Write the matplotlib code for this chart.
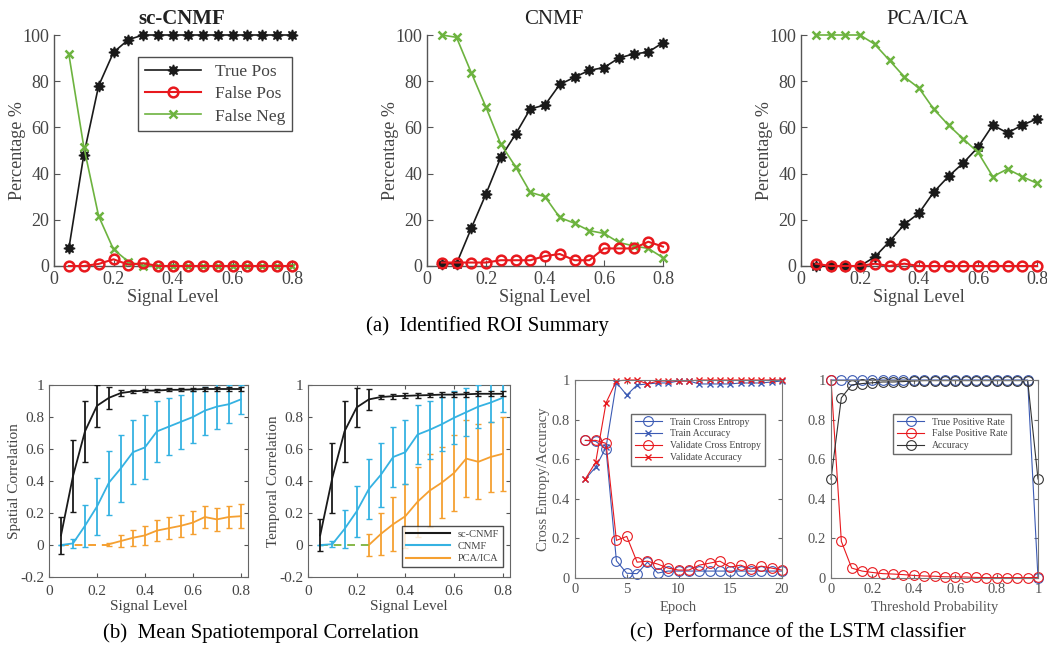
import matplotlib
matplotlib.use("Agg")
import matplotlib.pyplot as plt
import numpy as np

plt.rcParams["font.family"] = ["Liberation Serif", "DejaVu Serif"]

W, H = 1047, 649

# ---- (a) identified ROI summary ----
signal = [0.05, 0.1, 0.15, 0.2, 0.25, 0.3, 0.35, 0.4, 0.45, 0.5, 0.55, 0.6, 0.65, 0.7, 0.75, 0.8]

sc_true_pos = [7.6, 48, 78, 92.5, 98, 100, 100, 100, 100, 100, 100, 100, 100, 100, 100, 100]
sc_false_pos = [0, 0, 0.9, 2.9, 0.6, 1.2, 0, 0, 0, 0, 0, 0, 0, 0, 0, 0]
sc_false_neg = [91.6, 51.7, 21.6, 7.2, 1.9, 0, 0, 0, 0, 0, 0, 0, 0, 0, 0, 0]

cnmf_true_pos = [1, 1, 16.3, 31.2, 47, 57, 68, 69.7, 78.6, 81.7, 84.7, 85.9, 90, 91.8, 92.6, 96.7]
cnmf_false_pos = [1.5, 1.5, 1.5, 1.5, 2.5, 2.5, 2.5, 4.3, 5.2, 2.5, 2.5, 7.6, 7.6, 7.6, 10.5, 8.4]
cnmf_false_neg = [100, 99, 83.7, 68.7, 52.8, 43, 31.9, 30, 21, 18.5, 15.3, 14.1, 10.2, 8.7, 7.6, 3.6]

pca_true_pos = [0, 0, 0, 0, 3.9, 10.6, 18, 22.9, 32, 38.8, 44.6, 51.4, 61, 57.6, 61, 63.7]
pca_false_pos = [1, 0, 0, 0, 1, 0, 1, 0, 0, 0, 0, 0, 0, 0, 0, 0]
pca_false_neg = [100, 100, 100, 100, 96, 89, 81.9, 77, 67.9, 61, 55, 49.2, 38.7, 42, 38.7, 35.8]

# ---- (b) mean spatiotemporal correlation ----
nan = np.nan
sc_spatial = [0.06, 0.43, 0.71, 0.87, 0.92, 0.95, 0.96, 0.965, 0.965, 0.97, 0.97, 0.972, 0.975, 0.975, 0.975, 0.975]
sc_spatial_err = [0.115, 0.225, 0.19, 0.13, 0.07, 0.02, 0.01, 0.01, 0.01, 0.01, 0.01, 0.01, 0.01, 0.01, 0.01, 0.01]
cnmf_spatial = [0.0, 0.01, 0.12, 0.24, 0.39, 0.48, 0.58, 0.61, 0.71, 0.74, 0.77, 0.80, 0.84, 0.865, 0.88, 0.91]
cnmf_spatial_err = [0, 0.03, 0.13, 0.18, 0.2, 0.21, 0.2, 0.2, 0.19, 0.18, 0.17, 0.165, 0.15, 0.14, 0.12, 0.09]
pca_spatial = [nan, nan, nan, nan, 0.005, 0.025, 0.045, 0.06, 0.09, 0.105, 0.12, 0.14, 0.175, 0.16, 0.175, 0.18]
pca_spatial_err = [0, 0, 0, 0, 0.01, 0.035, 0.05, 0.06, 0.065, 0.07, 0.07, 0.07, 0.07, 0.07, 0.07, 0.075]

sc_temporal = [0.06, 0.42, 0.71, 0.86, 0.91, 0.925, 0.93, 0.932, 0.935, 0.937, 0.94, 0.94, 0.942, 0.945, 0.945, 0.945]
sc_temporal_err = [0.1, 0.22, 0.19, 0.12, 0.065, 0.015, 0.015, 0.015, 0.015, 0.015, 0.015, 0.015, 0.015, 0.015, 0.015, 0.015]
cnmf_temporal = [0.0, 0.005, 0.1, 0.21, 0.35, 0.44, 0.55, 0.58, 0.69, 0.72, 0.755, 0.795, 0.83, 0.865, 0.89, 0.92]
cnmf_temporal_err = [0, 0.02, 0.12, 0.16, 0.19, 0.2, 0.19, 0.2, 0.185, 0.18, 0.17, 0.165, 0.15, 0.135, 0.12, 0.09]
pca_temporal = [nan, nan, nan, nan, 0.0, 0.07, 0.13, 0.18, 0.27, 0.34, 0.39, 0.45, 0.54, 0.52, 0.55, 0.57]
pca_temporal_err = [0, 0, 0, 0, 0.07, 0.13, 0.17, 0.2, 0.22, 0.23, 0.22, 0.24, 0.24, 0.235, 0.22, 0.23]

# ---- (c) LSTM classifier ----
epochs = list(range(1, 21))
train_ce = [0.695, 0.69, 0.65, 0.087, 0.024, 0.022, 0.08, 0.025, 0.035, 0.035, 0.035, 0.035, 0.035, 0.035, 0.035, 0.035, 0.035, 0.035, 0.035, 0.035]
train_acc = [0.5, 0.56, 0.66, 0.987, 0.924, 0.975, 0.98, 0.985, 0.985, 0.995, 0.995, 0.98, 0.98, 0.98, 0.98, 0.985, 0.985, 0.985, 0.99, 0.995]
val_ce = [0.695, 0.695, 0.68, 0.19, 0.21, 0.08, 0.085, 0.07, 0.05, 0.04, 0.04, 0.065, 0.075, 0.085, 0.055, 0.065, 0.045, 0.06, 0.05, 0.04]
val_acc = [0.5, 0.585, 0.885, 0.995, 1.0, 1.0, 0.98, 0.995, 0.995, 0.995, 0.995, 1.0, 1.0, 1.0, 1.0, 1.0, 1.0, 1.0, 1.0, 1.0]

threshold = [0, 0.05, 0.1, 0.15, 0.2, 0.25, 0.3, 0.35, 0.4, 0.45, 0.5, 0.55, 0.6, 0.65, 0.7, 0.75, 0.8, 0.85, 0.9, 0.95, 1.0]
tpr = [1] * 20 + [0]
fpr = [1.0, 0.185, 0.05, 0.035, 0.028, 0.022, 0.02, 0.017, 0.013, 0.01, 0.009, 0.006, 0.006, 0.005, 0.003, 0.002, 0.002, 0.002, 0.002, 0.002, 0.003]
accuracy = [0.5, 0.91, 0.975, 0.982, 0.986, 0.99, 0.99, 0.992, 0.995, 0.997, 0.997, 0.997, 0.997, 0.997, 0.997, 0.997, 0.997, 0.997, 0.997, 0.997, 0.5]

BLACK = "#1a1a1a"
RED = "#e8191e"
GREEN = "#6db33f"
CYAN = "#35b2e2"
ORANGE = "#f5a031"
MBLUE = "#3c5bb4"
GRAY = "#444444"

fig = plt.figure(figsize=(W / 100, H / 100), dpi=100)


def px_axes(l, t, r, b):
    return fig.add_axes([l / W, 1 - b / H, (r - l) / W, (b - t) / H])


def style_top(ax):
    for s in ["top", "right"]:
        ax.spines[s].set_visible(False)
    for s in ["left", "bottom"]:
        ax.spines[s].set_color("#555555")
        ax.spines[s].set_linewidth(1.0)
    ax.tick_params(direction="in", length=4, color="#555555", labelcolor=GRAY, labelsize=13)
    ax.set_xlim(0, 0.8)
    ax.set_ylim(0, 100)
    ax.set_xticks([0, 0.2, 0.4, 0.6, 0.8])
    ax.set_xticklabels(["0", "0.2", "0.4", "0.6", "0.8"])
    ax.set_yticks([0, 20, 40, 60, 80, 100])
    ax.set_xlabel("Signal Level", fontsize=13, color=GRAY, labelpad=1)
    ax.set_ylabel("Percentage %", fontsize=13, color=GRAY, labelpad=-3)


def roi_panel(ax, tp, fp, fn, title, bold=False):
    ax.plot(signal, tp, color=BLACK, lw=1.2, marker=(8, 1, 0), ms=8, mfc=BLACK, mec=BLACK, label="True Pos", clip_on=False, zorder=3)
    ax.plot(signal, fp, color=RED, lw=1.5, marker="o", ms=7, mfc="none", mec=RED, mew=1.8, label="False Pos", clip_on=False, zorder=4)
    ax.plot(signal, fn, color=GREEN, lw=1.2, marker="x", ms=6, mec=GREEN, mew=1.8, label="False Neg", clip_on=False, zorder=3)
    style_top(ax)
    ax.set_title(title, fontsize=15, x=0.535, pad=8, color="#222222",
                 fontweight="bold" if bold else "normal")


ax1 = px_axes(54, 35, 292, 266)
roi_panel(ax1, sc_true_pos, sc_false_pos, sc_false_neg, "sc-CNMF", bold=True)
leg = ax1.legend(loc="upper right", bbox_to_anchor=(1.0, 0.905), fontsize=12.5, frameon=True,
                 fancybox=False, edgecolor="#222222", handlelength=3.2, borderpad=0.4,
                 labelspacing=0.35, borderaxespad=0)
for t in leg.get_texts():
    t.set_color(GRAY)

ax2 = px_axes(427, 35, 663, 266)
roi_panel(ax2, cnmf_true_pos, cnmf_false_pos, cnmf_false_neg, "CNMF")

ax3 = px_axes(801, 35, 1037, 266)
roi_panel(ax3, pca_true_pos, pca_false_pos, pca_false_neg, "PCA/ICA")


# ---- (b) ----
def corr_panel(ax, sc, sc_err, cn, cn_err, pc, pc_err, ylabel, dash_color):
    x = np.array(signal)
    pc = np.array(pc, dtype=float)
    missing = np.isnan(pc)
    first = np.argmax(~missing)
    dash_x = list(x[missing]) + [x[first]]
    ax.errorbar(x, sc, yerr=sc_err, color=BLACK, lw=1.3, elinewidth=1.3, capsize=2.5, zorder=4, label="sc-CNMF")
    ax.errorbar(x, cn, yerr=cn_err, color=CYAN, lw=1.3, elinewidth=1.3, capsize=2.5, zorder=3, label="CNMF")
    ax.errorbar(x[~missing], pc[~missing], yerr=np.array(pc_err)[~missing], color=ORANGE, lw=1.3,
                elinewidth=1.3, capsize=2.5, zorder=2, label="PCA/ICA")
    ax.plot(dash_x, [0] * len(dash_x), color=dash_color, lw=1.4, ls=(0, (4, 3)), zorder=2.5)
    ax.set_xlim(0, 0.83)
    ax.set_ylim(-0.2, 1)
    ax.set_xticks([0, 0.2, 0.4, 0.6, 0.8])
    ax.set_xticklabels(["0", "0.2", "0.4", "0.6", "0.8"])
    ax.set_yticks([-0.2, 0, 0.2, 0.4, 0.6, 0.8, 1])
    ax.set_yticklabels(["-0.2", "0", "0.2", "0.4", "0.6", "0.8", "1"])
    ax.tick_params(direction="in", length=3, color="#555555", labelcolor=GRAY, labelsize=11,
                   top=True, right=True)
    ax.tick_params(axis="x", pad=6)
    for s in ax.spines.values():
        s.set_color("#666666")
    ax.set_xlabel("Signal Level", fontsize=11, color=GRAY, labelpad=1)
    ax.set_ylabel(ylabel, fontsize=11, color=GRAY, labelpad=-1)


axb1 = px_axes(49, 385, 248, 577)
corr_panel(axb1, sc_spatial, sc_spatial_err, cnmf_spatial, cnmf_spatial_err,
           pca_spatial, pca_spatial_err, "Spatial Correlation", ORANGE)

axb2 = px_axes(308, 385, 510, 577)
corr_panel(axb2, sc_temporal, sc_temporal_err, cnmf_temporal, cnmf_temporal_err,
           pca_temporal, pca_temporal_err, "Temporal Correlation", "#86b84a")
handles, labels = axb2.get_legend_handles_labels()
hl = [plt.Line2D([], [], color=h[0].get_color(), lw=1.5) for h in handles]
leg = axb2.legend(hl, labels, loc="lower right", bbox_to_anchor=(0.965, 0.052), fontsize=7.5,
                  fancybox=False, edgecolor="#222222", handlelength=4.2, borderpad=0.35,
                  labelspacing=0.3, borderaxespad=0)
for t in leg.get_texts():
    t.set_color(GRAY)


# ---- (c) ----
def style_c(ax):
    ax.set_ylim(0, 1)
    ax.set_yticks([0, 0.2, 0.4, 0.6, 0.8, 1])
    ax.set_yticklabels(["0", "0.2", "0.4", "0.6", "0.8", "1"])
    ax.tick_params(direction="in", length=3, color="#666666", labelcolor="#555555", labelsize=10.5,
                   top=True, right=True)
    for s in ax.spines.values():
        s.set_color("#777777")
        s.set_linewidth(0.8)


axc1 = px_axes(575, 380, 782, 578)
axc1.plot(epochs, train_ce, color=MBLUE, lw=0.8, marker="o", ms=7, mfc="none", mew=0.8, label="Train Cross Entropy", clip_on=False)
axc1.plot(epochs, train_acc, color=MBLUE, lw=0.8, marker="x", ms=4.5, mew=1.0, label="Train Accuracy", clip_on=False)
axc1.plot(epochs, val_ce, color=RED, lw=0.8, marker="o", ms=7, mfc="none", mew=0.8, label="Validate Cross Entropy", clip_on=False)
axc1.plot(epochs, val_acc, color=RED, lw=0.8, marker="x", ms=4.5, mew=1.0, label="Validate Accuracy", clip_on=False)
axc1.set_xlim(0, 20)
axc1.set_xticks([0, 5, 10, 15, 20])
style_c(axc1)
axc1.set_xlabel("Epoch", fontsize=10.5, color="#555555", labelpad=4)
axc1.set_ylabel("Cross Entropy/Accuracy", fontsize=10.5, color="#555555", labelpad=1)
leg = axc1.legend(loc="upper left", bbox_to_anchor=(0.27, 0.83), fontsize=7, fancybox=False,
                  edgecolor="#444444", handlelength=2.8, borderpad=0.4, labelspacing=0.3,
                  borderaxespad=0)
for t in leg.get_texts():
    t.set_color("#444444")

axc2 = px_axes(831, 380, 1038, 578)
axc2.plot(threshold, tpr, color=MBLUE, lw=0.8, marker="o", ms=7, mfc="none", mew=0.8, label="True Positive Rate", clip_on=False)
axc2.plot(threshold, fpr, color=RED, lw=0.8, marker="o", ms=7, mfc="none", mew=0.8, label="False Positive Rate", clip_on=False)
axc2.plot(threshold, accuracy, color="#333333", lw=0.8, marker="o", ms=7, mfc="none", mew=0.8, label="Accuracy", clip_on=False)
axc2.set_xlim(0, 1)
axc2.set_xticks([0, 0.2, 0.4, 0.6, 0.8, 1])
axc2.set_xticklabels(["0", "0.2", "0.4", "0.6", "0.8", "1"])
style_c(axc2)
axc2.set_xlabel("Threshold Probability", fontsize=10.5, color="#555555", labelpad=4)
leg = axc2.legend(loc="upper left", bbox_to_anchor=(0.30, 0.83), fontsize=7, fancybox=False,
                  edgecolor="#444444", handlelength=2.8, borderpad=0.4, labelspacing=0.3,
                  borderaxespad=0)
for t in leg.get_texts():
    t.set_color("#444444")

# captions
fig.text(487 / W, 1 - 326 / H, "(a)  Identified ROI Summary", ha="center", va="center", fontsize=15)
fig.text(261 / W, 1 - 633 / H, "(b)  Mean Spatiotemporal Correlation", ha="center", va="center", fontsize=15)
fig.text(798 / W, 1 - 633 / H, "(c)  Performance of the LSTM classifier", ha="center", va="center", fontsize=15)

fig.savefig("out.png", dpi=100)
